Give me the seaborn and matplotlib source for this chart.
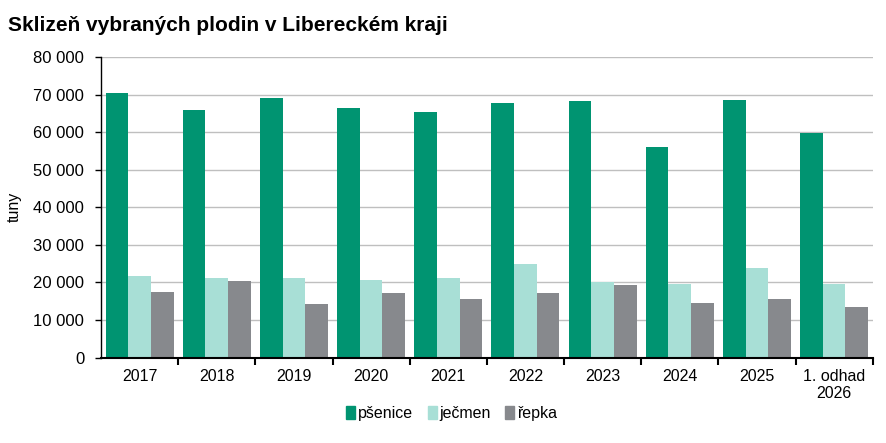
import pandas as pd
import seaborn as sns
import matplotlib.pyplot as plt
from matplotlib.ticker import FuncFormatter

# data (tonnes)
roky = ['2017', '2018', '2019', '2020', '2021', '2022', '2023', '2024', '2025', '1. odhad\n2026']
psenice = [70400, 66000, 69200, 66500, 65400, 67800, 68400, 56100, 68600, 59800]
jecmen = [21700, 21200, 21200, 20600, 21200, 24900, 20100, 19700, 23800, 19700]
repka = [17400, 20400, 14200, 17200, 15600, 17200, 19300, 14500, 15600, 13400]
plodiny = ['pšenice', 'ječmen', 'řepka']
barvy = ['#009471', '#a8dfd6', '#87898d']

df = pd.DataFrame({'rok': roky, 'pšenice': psenice, 'ječmen': jecmen, 'řepka': repka})
df = df.melt(id_vars='rok', var_name='plodina', value_name='tuny')

sns.set_style('white')
plt.rcParams['font.family'] = ['Liberation Sans', 'DejaVu Sans']
plt.rcParams['text.color'] = 'black'
plt.rcParams['axes.labelcolor'] = 'black'
plt.rcParams['xtick.color'] = 'black'
plt.rcParams['ytick.color'] = 'black'

fig = plt.figure(figsize=(8.86, 4.43), dpi=100)
ax = fig.add_axes([0.114, 0.193, 0.871, 0.678])

sns.barplot(data=df, x='rok', y='tuny', hue='plodina', hue_order=plodiny,
            palette=barvy, width=0.88, gap=0, saturation=1, linewidth=0,
            edgecolor='none', ax=ax, zorder=2)

# osy
ax.set_ylim(0, 80000)
ax.set_xlim(-0.5, len(roky) - 0.5)
ax.set_yticks(range(0, 80001, 10000))
ax.yaxis.set_major_formatter(FuncFormatter(lambda v, p: f'{int(v):,}'.replace(',', ' ')))
ax.yaxis.grid(True, color='#bfbfbf', linewidth=1, zorder=0)
ax.set_axisbelow(True)
ax.tick_params(axis='y', left=True, length=4, width=1, color='black', labelsize=12, pad=8)
ax.tick_params(axis='x', which='major', length=0, labelsize=11.5, pad=8)
ax.set_xticks([i + 0.5 for i in range(len(roky))], minor=True)
ax.tick_params(axis='x', which='minor', bottom=True, length=5, width=1.5, color='black')
for s in ['top', 'right']:
    ax.spines[s].set_visible(False)
ax.spines['left'].set_color('black')
ax.spines['left'].set_linewidth(1)
ax.spines['bottom'].set_color('black')
ax.spines['bottom'].set_linewidth(1.5)
ax.set_xlabel('')
ax.set_ylabel('tuny', fontsize=11.5, labelpad=8)

# legenda
ax.get_legend().remove()
handles = [plt.Rectangle((0, 0), 1, 1, color=c) for c in barvy]
fig.legend(handles, plodiny, loc='center', bbox_to_anchor=(0.51, 0.067), ncol=3,
           frameon=False, fontsize=11.5, handlelength=0.55, handleheight=0.9,
           handletextpad=0.2, columnspacing=0.9)

fig.text(0.009, 0.943, 'Sklizeň vybraných plodin v Libereckém kraji', fontsize=15,
         fontweight='bold', va='center')

fig.savefig('out.png', dpi=100)
